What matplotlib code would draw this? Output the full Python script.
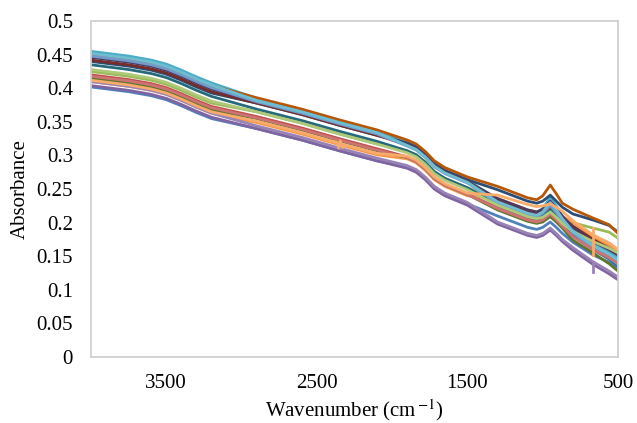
import numpy as np
import matplotlib
matplotlib.use("Agg")
import matplotlib.pyplot as plt

plt.rcParams['font.family'] = ['Liberation Serif', 'DejaVu Serif']
plt.rcParams['mathtext.fontset'] = 'stix'

# wavenumber grid (cm-1)
wn = [4000, 3750, 3600, 3500, 3400, 3300, 3200, 2900, 2600, 2350, 2100, 1900, 1840, 1780,
      1720, 1650, 1500, 1300, 1100, 1040, 1000, 950, 910, 870, 800, 667, 560, 500]

# absorbance of each spectrum at the grid points
blue         = [.402, .395, .389, .383, .374, .364, .355, .340, .323, .307, .292, .283, .277, .266,
                .252, .242, .228, .210, .193, .190, .193, .201, .193, .184, .171, .152, .141, .133]
red          = [.420, .413, .407, .401, .392, .382, .373, .358, .341, .325, .310, .298, .292, .281,
                .267, .257, .243, .222, .205, .202, .206, .215, .206, .196, .181, .162, .150, .142]
green        = [.425, .418, .412, .406, .397, .387, .378, .365, .348, .332, .317, .307, .301, .290,
                .276, .266, .252, .234, .217, .214, .215, .220, .214, .207, .200, .192, .186, .177]
purple       = [.404, .397, .391, .385, .376, .366, .357, .340, .323, .307, .292, .281, .275, .264,
                .250, .240, .226, .198, .181, .178, .181, .189, .181, .172, .159, .138, .124, .115]
aqua         = [.455, .448, .442, .436, .427, .417, .408, .385, .368, .352, .337, .318, .312, .301,
                .287, .277, .263, .235, .218, .215, .221, .238, .225, .210, .191, .170, .157, .148]
orange       = [.410, .403, .397, .391, .382, .372, .363, .349, .332, .316, .301, .295, .289, .278,
                .264, .254, .240, .236, .219, .216, .217, .222, .216, .209, .201, .178, .166, .158]
dark_blue    = [.440, .433, .427, .421, .412, .402, .393, .378, .361, .345, .330, .319, .313, .302,
                .288, .278, .264, .249, .232, .229, .232, .241, .232, .223, .213, .204, .196, .186]
dark_red     = [.442, .435, .429, .423, .414, .404, .395, .378, .361, .345, .330, .316, .310, .299,
                .285, .275, .261, .234, .217, .214, .216, .224, .216, .207, .195, .175, .162, .153]
dark_green   = [.415, .408, .402, .396, .387, .377, .368, .355, .338, .322, .307, .297, .291, .280,
                .266, .256, .242, .219, .202, .199, .201, .209, .201, .192, .174, .155, .139, .128]
dark_purple  = [.446, .439, .433, .427, .418, .408, .399, .380, .363, .347, .332, .316, .310, .299,
                .285, .275, .261, .236, .219, .216, .220, .232, .221, .210, .193, .172, .160, .152]
dark_teal    = [.435, .428, .422, .416, .407, .397, .388, .369, .352, .336, .321, .307, .301, .290,
                .276, .266, .252, .226, .209, .206, .210, .219, .210, .200, .181, .160, .146, .136]
brown        = [.451, .444, .438, .432, .423, .413, .404, .386, .369, .353, .338, .323, .317, .306,
                .292, .282, .268, .254, .237, .234, .240, .256, .243, .229, .220, .207, .197, .184]
light_blue   = [.448, .441, .435, .429, .420, .410, .401, .380, .363, .347, .332, .314, .308, .297,
                .283, .273, .259, .229, .212, .209, .214, .226, .215, .203, .185, .162, .148, .138]
pink         = [.418, .411, .405, .399, .390, .380, .371, .356, .339, .323, .308, .297, .291, .280,
                .266, .256, .242, .221, .204, .201, .204, .213, .204, .195, .179, .160, .148, .140]
light_green  = [.428, .421, .415, .409, .400, .390, .381, .365, .348, .332, .317, .304, .298, .287,
                .273, .263, .249, .226, .209, .206, .208, .216, .208, .199, .187, .172, .162, .155]
light_purple = [.410, .403, .397, .391, .382, .372, .363, .344, .327, .311, .296, .285, .279, .268,
                .254, .244, .230, .201, .184, .181, .184, .192, .184, .175, .163, .142, .128, .119]
light_aqua   = [.452, .445, .439, .433, .424, .414, .405, .382, .365, .349, .334, .315, .309, .298,
                .284, .274, .260, .231, .214, .211, .216, .230, .219, .206, .187, .166, .153, .144]
light_orange = [.412, .405, .399, .393, .384, .374, .365, .351, .334, .318, .303, .299, .293, .282,
                .268, .258, .244, .241, .227, .224, .225, .228, .223, .217, .203, .182, .170, .160]

# CO2 artefacts seen on a few spectra
co2_wn = [2420, 2370, 2355, 2345, 2330, 2300]
co2_light_orange = [.322, .320, .311, .322, .312, .315]
spike_wn = [667, 667]
spike_orange = [.192, .152]
spike_purple = [.142, .126]

series = [
    (blue, '#4F81BD'), (red, '#C0504D'), (green, '#9BBB59'), (purple, '#8064A2'),
    (aqua, '#4BACC6'), (orange, '#F79646'), (dark_blue, '#2C4D75'), (dark_red, '#772C2A'),
    (dark_green, '#5F7530'), (dark_purple, '#4D3B62'), (dark_teal, '#276A7C'), (brown, '#B65708'),
    (light_blue, '#729ACA'), (pink, '#CD7371'), (light_green, '#AFC97A'), (light_purple, '#9983B5'),
    (light_aqua, '#6FBDD1'), (light_orange, '#F9AB6B'),
]

fig = plt.figure(figsize=(6.37, 4.23), dpi=100)
ax = fig.add_axes([0.1429, 0.156, 0.8273, 0.794])
for vals, c in series:
    ax.plot(wn, vals, color=c, lw=2.0, solid_joinstyle='round')
ax.plot(co2_wn, co2_light_orange, color='#F9AB6B', lw=2.0)
ax.plot(spike_wn, spike_orange, color='#F9AB6B', lw=2.0)
ax.plot(spike_wn, spike_purple, color='#9983B5', lw=2.0)

ax.set_xlim(4000, 500)
ax.set_ylim(0, 0.5)
ax.set_xticks([3500, 2500, 1500, 500])
yt = np.round(np.arange(0, 0.501, 0.05), 2)
ax.set_yticks(yt)
ax.set_yticklabels([('%g' % v) for v in yt])
ax.tick_params(length=0, labelsize=15, colors='#000000')
ax.tick_params(axis='y', pad=13)
ax.tick_params(axis='x', pad=12)
for s in ax.spines.values():
    s.set_color('#D0D0D0'); s.set_linewidth(1.3)
ax.set_xlabel(r'Wavenumber (cm$^{\,\mathrm{-1}}$)', fontsize=15, labelpad=3)
ax.set_ylabel('Absorbance', fontsize=15, labelpad=5)

fig.savefig('out.png', dpi=100)
